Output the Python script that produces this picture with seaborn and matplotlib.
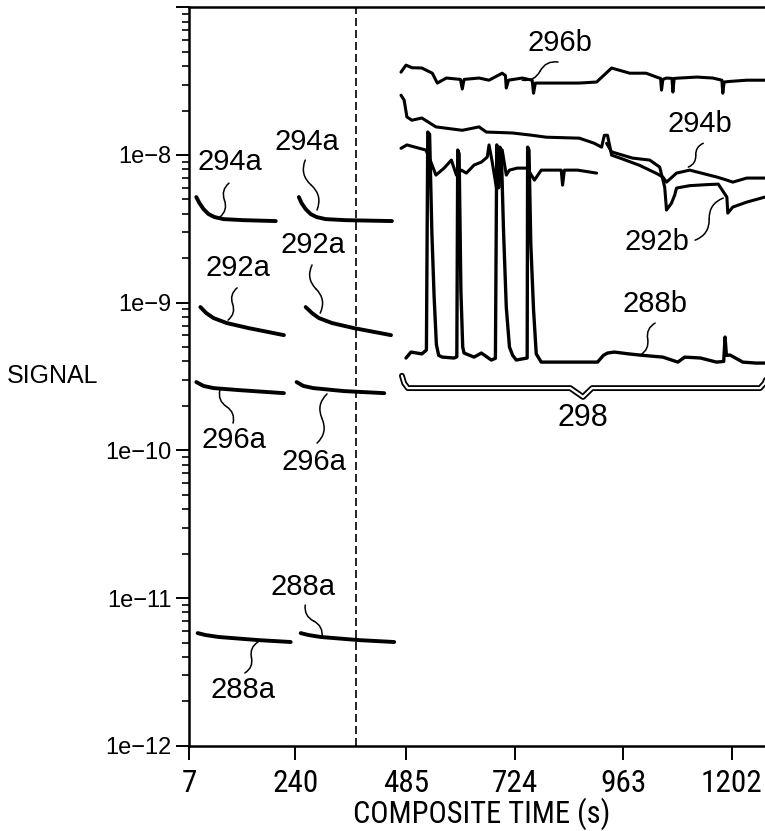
import numpy as np
import pandas as pd
import matplotlib
matplotlib.use("Agg")
import matplotlib.pyplot as plt
import matplotlib.ticker as mticker
import seaborn as sns

# ---------------- data (composite time in s, signal) ----------------
t294a_1 = [22, 29, 38, 49, 62, 82, 126, 197]
v294a_1 = [5.19e-9, 4.72e-9, 4.30e-9, 3.98e-9, 3.80e-9, 3.68e-9, 3.62e-9, 3.57e-9]
t294a_2 = [248, 254, 263, 274, 287, 307, 351, 453]
v294a_2 = [5.19e-9, 4.72e-9, 4.30e-9, 3.98e-9, 3.80e-9, 3.68e-9, 3.62e-9, 3.57e-9]

t292a_1 = [31, 44, 60, 89, 137, 215]
v292a_1 = [9.34e-10, 8.50e-10, 7.87e-10, 7.28e-10, 6.73e-10, 6.03e-10]
t292a_2 = [263, 277, 292, 321, 369, 451]
v292a_2 = [9.34e-10, 8.50e-10, 7.87e-10, 7.28e-10, 6.73e-10, 6.03e-10]

t296a_1 = [22, 38, 60, 115, 215]
v296a_1 = [2.90e-10, 2.73e-10, 2.64e-10, 2.56e-10, 2.44e-10]
t296a_2 = [243, 258, 280, 347, 436]
v296a_2 = [2.90e-10, 2.73e-10, 2.64e-10, 2.52e-10, 2.44e-10]

t288a_1 = [25, 42, 71, 159, 230]
v288a_1 = [5.79e-12, 5.62e-12, 5.45e-12, 5.19e-12, 5.04e-12]
t288a_2 = [252, 269, 296, 380, 458]
v288a_2 = [5.79e-12, 5.62e-12, 5.45e-12, 5.19e-12, 5.04e-12]

t296b = [473, 484, 497, 519, 542, 553, 573, 604, 608, 612, 645, 667, 696, 703, 705,
         710, 740, 762, 765, 769, 793, 866, 904, 937, 977, 1013, 1036, 1045, 1047,
         1050, 1058, 1070, 1072, 1075, 1087, 1125, 1160, 1180, 1182, 1185, 1198,
         1235, 1275]
v296b = [3.64e-8, 4.06e-8, 3.90e-8, 3.88e-8, 3.58e-8, 3.07e-8, 3.32e-8, 3.25e-8,
         2.80e-8, 3.25e-8, 3.32e-8, 3.21e-8, 3.58e-8, 3.45e-8, 2.84e-8, 3.21e-8,
         3.32e-8, 3.21e-8, 2.62e-8, 3.07e-8, 3.07e-8, 3.07e-8, 3.12e-8, 3.88e-8,
         3.58e-8, 3.58e-8, 3.37e-8, 3.30e-8, 2.75e-8, 3.25e-8, 3.32e-8, 3.30e-8,
         2.67e-8, 3.30e-8, 3.32e-8, 3.37e-8, 3.32e-8, 3.21e-8, 2.62e-8, 3.12e-8,
         3.15e-8, 3.21e-8, 3.21e-8]

t294b = [473, 480, 486, 497, 519, 550, 608, 645, 661, 718, 762, 793, 866, 899, 915,
         921, 928, 937, 961, 999, 1036, 1050, 1058, 1080, 1109, 1169, 1191, 1204,
         1235, 1275]
v294b = [2.54e-8, 2.35e-8, 1.81e-8, 1.72e-8, 1.78e-8, 1.55e-8, 1.47e-8, 1.55e-8,
         1.43e-8, 1.41e-8, 1.36e-8, 1.32e-8, 1.30e-8, 1.20e-8, 1.13e-8, 1.36e-8,
         1.36e-8, 9.98e-9, 9.40e-9, 8.50e-9, 7.50e-9, 7.09e-9, 6.55e-9, 7.54e-9,
         7.90e-9, 7.09e-9, 6.76e-9, 6.55e-9, 6.98e-9, 6.98e-9]

t292b_1 = [473, 486, 528, 539, 550, 568, 584, 595, 606, 617, 634, 650, 663, 667, 674,
           683, 690, 696, 705, 712, 729, 751, 767, 782, 826, 829, 833, 862, 904]
v292b_1 = [1.11e-8, 1.17e-8, 1.08e-8, 8.95e-9, 7.31e-9, 8.15e-9, 9.24e-9, 7.31e-9,
           7.90e-9, 7.54e-9, 8.55e-9, 8.95e-9, 9.68e-9, 1.17e-8, 8.95e-9, 6.06e-9,
           1.11e-8, 1.08e-8, 7.31e-9, 7.90e-9, 8.15e-9, 8.15e-9, 6.76e-9, 7.90e-9,
           7.90e-9, 6.25e-9, 7.90e-9, 7.90e-9, 7.54e-9]
t292b_2 = [926, 937, 983, 1021, 1043, 1054, 1058, 1069, 1076, 1080, 1109, 1147, 1172,
           1191, 1193, 1204, 1235, 1275]
v292b_2 = [1.20e-8, 1.05e-8, 9.53e-9, 9.24e-9, 8.28e-9, 6.06e-9, 4.24e-9, 4.72e-9,
           5.35e-9, 5.97e-9, 6.20e-9, 6.30e-9, 6.35e-9, 5.19e-9, 4.04e-9, 4.44e-9,
           4.80e-9, 5.19e-9]

t288b = [484, 495, 519, 529, 532, 536, 541, 546, 551, 556, 564, 590, 596, 598, 601,
         605, 609, 612, 634, 650, 672, 681, 684, 688, 691, 694, 699, 705, 712, 719,
         727, 751, 752, 755, 759, 765, 771, 782, 906, 919, 928, 943, 975, 1005, 1050,
         1083, 1098, 1133, 1168, 1184, 1187, 1190, 1198, 1226, 1255, 1275]
v288b = [4.22e-10, 4.63e-10, 4.50e-10, 4.78e-10, 1.43e-8, 1.38e-8, 3.00e-9, 1.09e-9,
         5.20e-10, 4.40e-10, 4.28e-10, 4.22e-10, 4.30e-10, 1.08e-8, 1.02e-8, 1.20e-9,
         5.00e-10, 4.56e-10, 4.28e-10, 4.56e-10, 4.09e-10, 4.20e-10, 1.17e-8, 6.00e-9,
         1.13e-8, 1.05e-8, 3.00e-9, 9.30e-10, 5.00e-10, 4.40e-10, 4.09e-10, 4.22e-10,
         1.13e-8, 1.08e-8, 2.50e-9, 9.00e-10, 4.50e-10, 3.96e-10, 3.96e-10, 4.40e-10,
         4.56e-10, 4.63e-10, 4.50e-10, 4.40e-10, 4.28e-10, 3.96e-10, 4.28e-10, 4.22e-10,
         3.96e-10, 4.00e-10, 5.85e-10, 4.40e-10, 4.42e-10, 3.96e-10, 3.90e-10, 3.90e-10]

x_ticks = [7, 240, 485, 724, 963, 1202]
x_limits = (7, 1275)
y_ticks = [1e-12, 1e-11, 1e-10, 1e-9, 1e-8, 1e-7]
y_ticklabels = ["1e\u221212", "1e\u221211", "1e\u221210", "1e\u22129", "1e\u22128", ""]
y_limits = (1e-12, 1e-7)
divider_time = 373

labels = ["294a", "294a", "292a", "292a", "296a", "296a", "288a", "288a",
          "296b", "294b", "292b", "288b"]
label_t = [96, 266, 114, 279, 105, 281, 257, 125, 824, 1132, 1038, 1033]
label_v = [8.95e-9, 1.22e-8, 1.71e-9, 2.46e-9, 1.17e-10, 8.33e-11, 1.19e-11,
           2.38e-12, 5.72e-8, 1.62e-8, 2.57e-9, 9.78e-10]
leader_t0 = [94, 262, 112, 277, 103, 288, 262, 129, 819, 1139, 1121, 1033]
leader_v0 = [6.45e-9, 9.24e-9, 1.26e-9, 1.80e-9, 1.53e-10, 1.12e-10, 8.96e-12,
             3.11e-12, 4.26e-8, 1.20e-8, 2.65e-9, 7.28e-10]
leader_t1 = [74, 288, 92, 295, 74, 310, 299, 158, 740, 1106, 1183, 1000]
leader_v1 = [3.80e-9, 4.24e-9, 7.62e-10, 8.50e-10, 2.56e-10, 2.41e-10, 5.45e-12,
             5.04e-12, 3.21e-8, 8.28e-9, 5.11e-9, 4.42e-10]

brace_label = "298"
brace_label_t, brace_label_v = 874, 1.65e-10
brace_t = [475, 480, 488, 846, 874, 894, 1264, 1274, 1281]
brace_v = [3.20e-10, 2.85e-10, 2.64e-10, 2.64e-10, 2.30e-10, 2.64e-10, 2.64e-10,
           2.85e-10, 3.20e-10]

# ---------------- figure ----------------
sns.set_theme(style="white")
plt.rcParams["font.family"] = ["Liberation Sans", "DejaVu Sans"]
COND = ["Roboto Condensed", "Liberation Sans"]

fig = plt.figure(figsize=(7.65, 8.31), dpi=100)
ax = fig.add_axes([0.2477, 0.1026, 0.7523, 0.8886])
ax.set_yscale("log")

traces = [
    (t294a_1, v294a_1, 2.8), (t294a_2, v294a_2, 2.8),
    (t292a_1, v292a_1, 2.8), (t292a_2, v292a_2, 2.8),
    (t296a_1, v296a_1, 2.8), (t296a_2, v296a_2, 2.8),
    (t288a_1, v288a_1, 2.8), (t288a_2, v288a_2, 2.8),
    (t296b, v296b, 2.2), (t294b, v294b, 2.2),
    (t292b_1, v292b_1, 2.2), (t292b_2, v292b_2, 2.2),
    (t288b, v288b, 2.4),
]
for tt, vv, lw in traces:
    df = pd.DataFrame({"t": tt, "v": vv})
    sns.lineplot(data=df, x="t", y="v", ax=ax, color="black", linewidth=lw,
                 estimator=None, sort=False, legend=False)

ax.axvline(divider_time, color="black", lw=1.2, ls=(0, (4.8, 2.4)))

ax.set_xlim(*x_limits)
ax.set_ylim(*y_limits)

ax.set_xticks(x_ticks)
ax.set_xticklabels([str(x) for x in x_ticks], fontsize=22.5, family=COND)
ax.set_yticks(y_ticks)
ax.set_yticklabels(y_ticklabels, fontsize=17)
ax.yaxis.set_minor_locator(mticker.LogLocator(base=10, subs=np.arange(2, 10), numticks=20))
ax.yaxis.set_minor_formatter(mticker.NullFormatter())

ax.tick_params(axis="x", which="major", direction="out", length=10, width=1.4,
               pad=7, bottom=True, colors="black")
ax.tick_params(axis="y", which="major", direction="out", length=9.4, width=1.4,
               pad=3.6, left=True, colors="black")
ax.tick_params(axis="y", which="minor", direction="out", length=5, width=1.2,
               left=True, colors="black")

for side in ["left", "bottom", "top"]:
    ax.spines[side].set_visible(True)
    ax.spines[side].set_color("black")
    ax.spines[side].set_linewidth(1.8)
ax.spines["right"].set_visible(False)

ax.set_xlabel("COMPOSITE TIME (s)", fontsize=22, family=COND, color="black")
ax.xaxis.set_label_coords(0.508, -0.0695)
ax.set_ylabel("SIGNAL", fontsize=18, rotation=0, ha="left", va="center", color="black")
ax.yaxis.set_label_coords(-0.3171, 0.5007)
ax.grid(False)

for i, lab in enumerate(labels):
    ax.text(label_t[i], label_v[i], lab, fontsize=21, ha="center", va="center",
            color="black")
    tm = 0.5 * (leader_t0[i] + leader_t1[i])
    vm = np.sqrt(leader_v0[i] * leader_v1[i])
    ax.annotate("", xy=(tm, vm), xytext=(leader_t0[i], leader_v0[i]),
                arrowprops=dict(arrowstyle="-", lw=1.1, color="black",
                                connectionstyle="arc3,rad=0.35", shrinkA=0, shrinkB=0))
    ax.annotate("", xy=(leader_t1[i], leader_v1[i]), xytext=(tm, vm),
                arrowprops=dict(arrowstyle="-", lw=1.1, color="black",
                                connectionstyle="arc3,rad=-0.35", shrinkA=0, shrinkB=0))

ax.plot(brace_t, brace_v, color="black", lw=4.2, clip_on=False, solid_joinstyle="round")
ax.plot(brace_t, brace_v, color="white", lw=1.6, clip_on=False, solid_joinstyle="round")
ax.text(brace_label_t, brace_label_v, brace_label, fontsize=22, ha="center",
        va="center", color="black")

fig.savefig("out.png", dpi=100, facecolor="white")
